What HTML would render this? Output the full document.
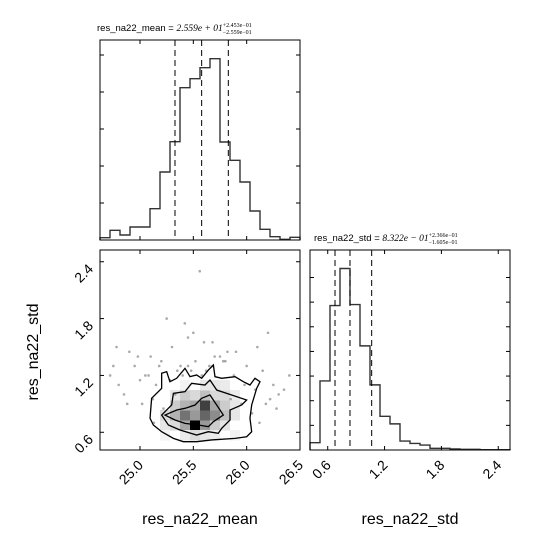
<!DOCTYPE html>
<html><head><meta charset="utf-8"><style>
body{margin:0;background:#fff;}
svg{display:block;font-family:"Liberation Sans",sans-serif;}
</style></head><body>
<svg id="c" width="550" height="550" viewBox="0 0 550 550"></svg>
<script>
// ---- data ----
const meanBins=[7,29,15,39,39,94,204,295,457,484,517,544,294,239,174,87,32,10,2,8];
const stdBins=[22,209,437,549,440,315,197,102,79,27,20,15,5,5,3,2,2,1,1,1];
const meanQuant=[25.328,25.578,25.828];
const stdQuant=[0.677,0.835,1.064];
const meanTicks=[25.0,25.5,26.0,26.5];
const meanTickLabels=["25.0","25.5","26.0","26.5"];
const stdTicks=[0.6,1.2,1.8,2.4];
const stdTickLabels=["0.6","1.2","1.8","2.4"];
const densCells=[[6,2,0.1],[7,2,0.15],[8,2,0.35],[9,2,1.0],[10,2,0.4],[11,2,0.2],[12,2,0.1],
[6,3,0.15],[7,3,0.3],[8,3,0.55],[9,3,0.4],[10,3,0.6],[11,3,0.45],[12,3,0.25],[13,3,0.1],
[7,4,0.2],[8,4,0.3],[9,4,0.35],[10,4,0.75],[11,4,0.35],[12,4,0.2],[13,4,0.1],
[7,5,0.1],[8,5,0.2],[9,5,0.15],[10,5,0.25],[11,5,0.15],[12,5,0.15],[13,5,0.08],
[8,6,0.05],[10,6,0.1],[11,6,0.1],[12,6,0.08],[8,1,0.08],[9,1,0.15],[10,1,0.1],[11,1,0.08],[6,1,0.05],[13,1,0.05]];
const contOuter=[[25.094,0.748],[25.109,0.959],[25.203,1.064],[25.203,1.223],[25.25,1.24],[25.281,1.134],[25.344,1.17],[25.422,1.275],[25.469,1.187],[25.531,1.205],[25.578,1.17],[25.641,1.257],[25.688,1.31],[25.703,1.187],[25.766,1.17],[25.891,1.187],[25.969,1.134],[26.031,1.099],[26.078,1.17],[26.125,1.134],[26.094,1.064],[26.047,0.888],[26.031,0.748],[26.047,0.606],[26.0,0.553],[25.891,0.536],[25.672,0.519],[25.531,0.501],[25.406,0.501],[25.313,0.536],[25.203,0.606],[25.125,0.677]];
const contMid=[[25.203,0.782],[25.297,0.888],[25.313,1.011],[25.422,1.029],[25.484,1.117],[25.609,1.099],[25.656,1.152],[25.719,1.046],[25.859,0.994],[26.0,0.941],[25.953,0.888],[25.844,0.835],[25.844,0.73],[25.766,0.642],[25.734,0.589],[25.641,0.606],[25.531,0.571],[25.375,0.624],[25.266,0.677]];
const contInner=[[25.234,0.782],[25.344,0.835],[25.422,0.853],[25.516,0.888],[25.578,0.959],[25.656,0.994],[25.719,0.888],[25.781,0.782],[25.688,0.712],[25.641,0.659],[25.547,0.677],[25.422,0.694],[25.328,0.73]];
const ptsX=[25.56,25.42,24.72,24.8,24.9,24.95,25.0,25.05,25.1,25.15,25.2,25.3,25.35,25.45,25.5,25.6,25.65,25.75,25.8,25.9,26.0,26.1,26.15,26.2,26.25,26.35,26.4,24.75,24.85,25.02,25.12,25.22,25.33,25.4,25.52,25.62,25.7,25.85,25.95,26.05,26.12,26.22,26.3,24.78,24.98,25.08,25.18,25.28,25.38,25.48,25.58,25.68,25.78,25.88,25.98,26.08,26.18,26.28,25.25,25.45,25.68,25.82,24.88,25.13];
const ptsY=[2.3,1.75,1.2,1.1,1.45,1.3,1.15,1.2,1.4,1.1,1.35,1.5,1.25,1.3,1.65,1.55,1.3,1.4,1.35,1.45,1.3,1.5,1.25,1.65,1.1,1.05,1.2,1.3,1.0,0.9,0.95,0.85,1.0,1.2,1.35,1.25,1.4,0.95,0.9,0.8,0.7,0.95,1.0,1.5,1.4,1.2,1.3,1.15,1.3,1.25,1.2,1.3,1.35,1.2,1.1,1.05,0.9,0.85,1.8,1.6,1.55,1.45,0.9,0.7];
// ---- helpers ----
const svg=document.getElementById('c');const NS='http://www.w3.org/2000/svg';
function mk(t,a,p){const e=document.createElementNS(NS,t);for(const k in a)e.setAttribute(k,a[k]);(p||svg).appendChild(e);return e;}
const X0=24.625,X1=26.5,Y0=0.413,Y1=2.524;
function sxL(v){return 100+(v-X0)/(X1-X0)*200;}
function syL(v){return 450-(v-Y0)/(Y1-Y0)*200;}
function sxR(v){return 310+(v-Y0)/(Y1-Y0)*200;}
// ---- top-left histogram ----
(function(){
 const g=mk('g',{});
 const top=40,bot=240;const ys=v=>bot-v/600*200;
 let d='M100 '+bot;meanBins.forEach((v,i)=>{const x0=100+i*10;d+=' L'+x0+' '+ys(v)+' L'+(x0+10)+' '+ys(v);});d+=' L300 '+bot;
 const p=mk('path',{d:d,fill:'none',stroke:'#333',"stroke-width":1.4},g);
 meanQuant.forEach(q=>{const l=mk('line',{x1:sxL(q),x2:sxL(q),y1:top,y2:bot,stroke:'#000',"stroke-dasharray":'6,4'},g);});
 meanTicks.forEach(t=>{const x=sxL(t);mk('line',{x1:x,x2:x,y1:bot,y2:bot-4,stroke:'#000'},g);mk('line',{x1:x,x2:x,y1:top,y2:top+4,stroke:'#000'},g);});
 [100,200,300,400,500].forEach(c=>{const y=bot-c/600*200*1.11;mk('line',{x1:100,x2:104,y1:y,y2:y,stroke:'#000'},g);mk('line',{x1:300,x2:296,y1:y,y2:y,stroke:'#000'},g);});
 const f=mk('rect',{x:100,y:top,width:200,height:200,fill:'none',stroke:'#000',"stroke-width":1},g);
 const t=mk('text',{x:97,y:31,"font-size":9.5},g);
 t.innerHTML='res_na22_mean = <tspan font-family="Liberation Serif" font-style="italic">2.559e + 01</tspan><tspan font-family="Liberation Serif" font-size="6" dy="-4">+2.453e−01</tspan><tspan font-family="Liberation Serif" font-size="6" dx="-29" dy="7">−2.559e−01</tspan>';
})();
// ---- bottom-left 2D ----
(function(){
 const g=mk('g',{});
 const cw=(X1-X0)/20,ch=(Y1-Y0)/20;
 densCells.forEach(c=>{const x=sxL(X0+c[0]*cw),y=syL(Y0+(c[1]+1)*ch);const s=Math.round(255*(1-c[2]));
  const r=mk('rect',{x:x,y:y,width:10,height:10.5,fill:`rgb(${s},${s},${s})`},g);});
 ptsX.forEach((px,i)=>{const c=mk('circle',{cx:sxL(px),cy:syL(ptsY[i]),r:1.3,fill:'#555',opacity:0.5},g);});
 [[contOuter,'contour-outer'],[contMid,'contour-middle'],[contInner,'contour-inner']].forEach(([a,n])=>{
  const p=mk('polygon',{points:a.map(q=>sxL(q[0])+','+syL(q[1])).join(' '),fill:'none',stroke:'#000',"stroke-width":1.3},g);});
 meanTicks.forEach((t,i)=>{const x=sxL(t);mk('line',{x1:x,x2:x,y1:450,y2:446,stroke:'#000'},g);mk('line',{x1:x,x2:x,y1:250,y2:254,stroke:'#000'},g);
  const l=mk('text',{x:x+4,y:466,"font-size":14,"text-anchor":'end',transform:`rotate(-45 ${x+4} 466)`},g);l.textContent=meanTickLabels[i];});
 stdTicks.forEach((t,i)=>{const y=syL(t);mk('line',{x1:100,x2:104,y1:y,y2:y,stroke:'#000'},g);mk('line',{x1:300,x2:296,y1:y,y2:y,stroke:'#000'},g);
  const l=mk('text',{x:94,y:y+8,"font-size":14,"text-anchor":'end',transform:`rotate(-45 94 ${y+8})`},g);l.textContent=stdTickLabels[i];});
 const f=mk('rect',{x:100,y:250,width:200,height:200,fill:'none',stroke:'#000'},g);
 const xl=mk('text',{x:200,y:524,"font-size":16,"text-anchor":'middle'});xl.textContent='res_na22_mean';
 const yl=mk('text',{x:38,y:352,"font-size":16,"text-anchor":'middle',transform:'rotate(-90 38 352)'});yl.textContent='res_na22_std';
})();
// ---- bottom-right histogram ----
(function(){
 const g=mk('g',{});
 const top=250,bot=450;const ys=v=>bot-v/605*200;
 let d='M310 '+bot;stdBins.forEach((v,i)=>{const x0=310+i*10;d+=' L'+x0+' '+ys(v)+' L'+(x0+10)+' '+ys(v);});d+=' L510 '+bot;
 const p=mk('path',{d:d,fill:'none',stroke:'#333',"stroke-width":1.4},g);
 stdQuant.forEach(q=>{const l=mk('line',{x1:sxR(q),x2:sxR(q),y1:top,y2:bot,stroke:'#000',"stroke-dasharray":'6,4'},g);});
 stdTicks.forEach((t,i)=>{const x=sxR(t);mk('line',{x1:x,x2:x,y1:bot,y2:bot-4,stroke:'#000'},g);mk('line',{x1:x,x2:x,y1:top,y2:top+4,stroke:'#000'},g);
  const l=mk('text',{x:x+4,y:466,"font-size":14,"text-anchor":'end',transform:`rotate(-45 ${x+4} 466)`},g);l.textContent=stdTickLabels[i];});
 [75,150,225,300,375,450,525].forEach(c=>{const y=bot-c/605*200*0.994;mk('line',{x1:310,x2:314,y1:y,y2:y,stroke:'#000'},g);mk('line',{x1:510,x2:506,y1:y,y2:y,stroke:'#000'},g);});
 const f=mk('rect',{x:310,y:top,width:200,height:200,fill:'none',stroke:'#000'},g);
 const t=mk('text',{x:314,y:241,"font-size":9.5},g);
 t.innerHTML='res_na22_std = <tspan font-family="Liberation Serif" font-style="italic">8.322e − 01</tspan><tspan font-family="Liberation Serif" font-size="6" dy="-4">+2.366e−01</tspan><tspan font-family="Liberation Serif" font-size="6" dx="-29" dy="7">−1.605e−01</tspan>';
 const xl=mk('text',{x:410,y:524,"font-size":16,"text-anchor":'middle'});xl.textContent='res_na22_std';
})();
</script>
</body></html>
